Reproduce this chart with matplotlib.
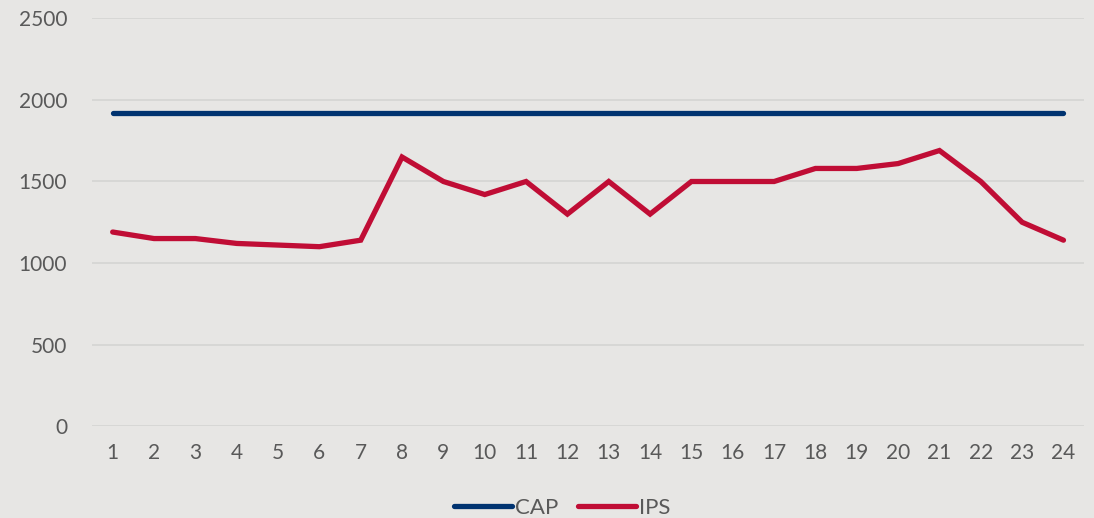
import numpy as np
import matplotlib.pyplot as plt

hours = np.arange(1, 25)
cap = [1920] * 24
ips = [1190, 1150, 1150, 1120, 1110, 1100, 1140, 1650, 1500, 1420, 1500, 1300,
       1500, 1300, 1500, 1500, 1500, 1580, 1580, 1610, 1690, 1500, 1250, 1140]

plt.rcParams['font.family'] = ['Lato', 'DejaVu Sans']
bg = '#e7e6e4'
txt = '#595959'

fig = plt.figure(figsize=(10.94, 5.18), dpi=100, facecolor=bg)
ax = fig.add_axes([0.0841, 0.1776, 0.9069, 0.7867], facecolor=bg)

ax.plot(hours, cap, color='#003370', lw=3.8, solid_capstyle='round', label='CAP')
ax.plot(hours, ips, color='#c00d35', lw=3.8, solid_capstyle='round',
        solid_joinstyle='miter', label='IPS')

ax.set_xlim(0.5, 24.5)
ax.set_ylim(0, 2500)
ax.set_yticks(np.arange(0, 2501, 500))
ax.set_xticks(hours)
ax.grid(axis='y', color='#d6d6d4', lw=1.3)
ax.set_axisbelow(True)
for s in ax.spines.values():
    s.set_visible(False)
ax.tick_params(length=0, labelsize=15, labelcolor=txt)
ax.tick_params(axis='y', pad=18)
ax.tick_params(axis='x', pad=12)

fig.legend(loc='center', bbox_to_anchor=(0.514, 0.019), ncol=2, frameon=False,
           fontsize=16, labelcolor=txt, handlelength=2.6, handletextpad=0.15,
           columnspacing=0.9)

fig.savefig('out.png', dpi=100, facecolor=bg)
